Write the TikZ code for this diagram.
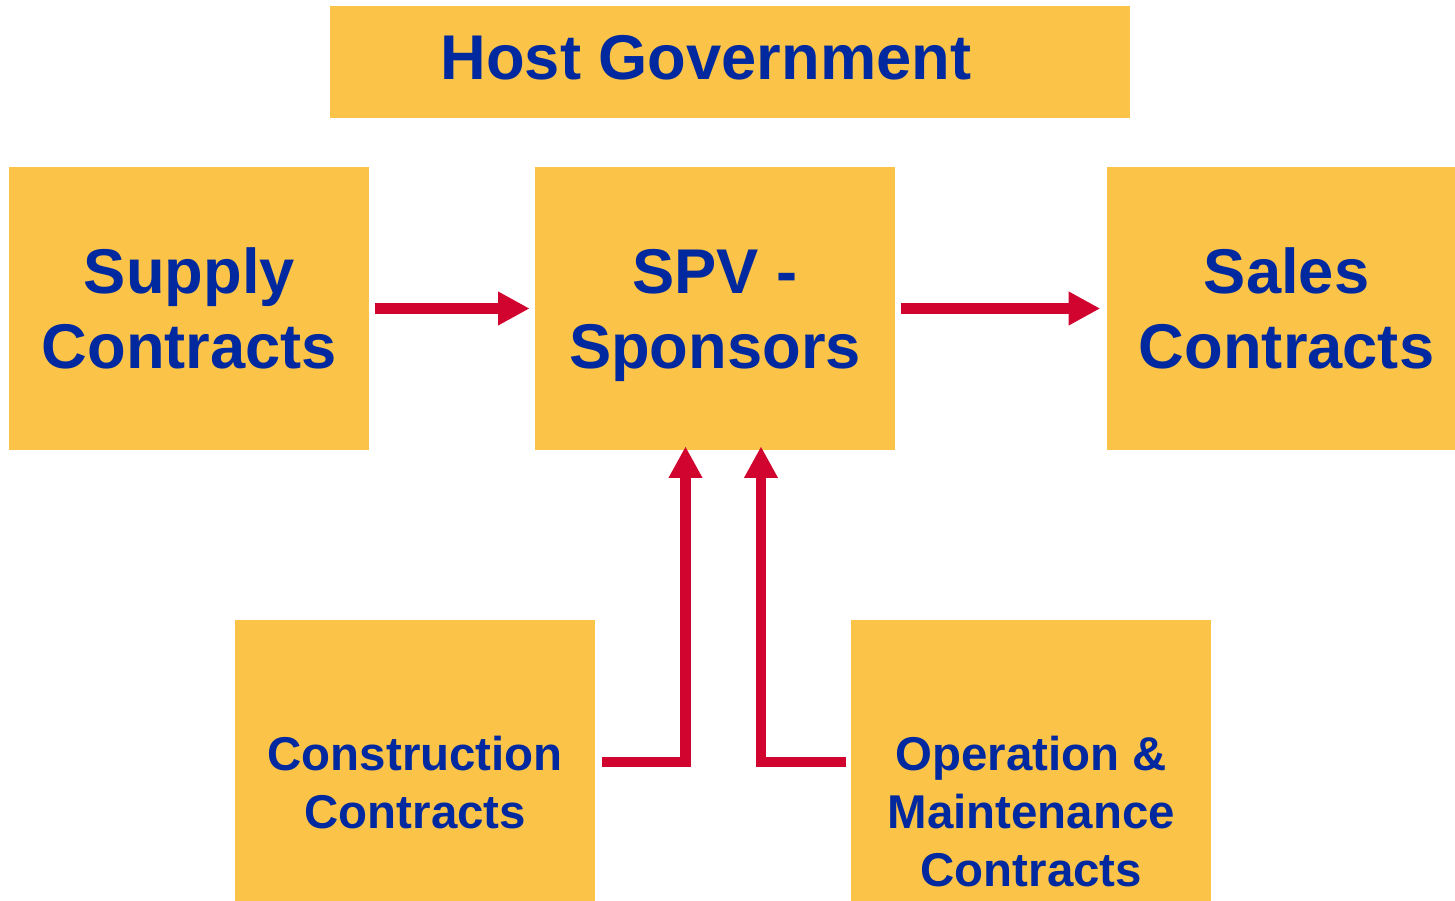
\documentclass[tikz,border=0pt]{standalone}
\usepackage{fontspec}
\setmainfont{Liberation Sans}
\usetikzlibrary{arrows.meta,positioning}

\definecolor{boxyellow}{RGB}{251,196,72}
\definecolor{arrowred}{RGB}{208,4,46}
\definecolor{textblue}{RGB}{0,41,160}

\begin{document}
\begin{tikzpicture}[x=0.02cm,y=-0.02cm,node distance=2cm]
    \tikzstyle{box}=[rectangle, fill=boxyellow, text=textblue, align=center,
        minimum width=7.2cm, minimum height=5.66cm, inner sep=0pt, text depth=0pt,
        font=\fontsize{36}{42.7}\selectfont\bfseries]
    \tikzstyle{smallbox}=[box, font=\fontsize{27}{33}\selectfont\bfseries]
    \tikzstyle{flow}=[arrowred, line width=6.2pt, -{Triangle[length=18pt,width=18pt]}]

    \path[use as bounding box, clip] (0,0) rectangle (1455,901);

    \node[box]          (spv) at (715,308.5) {SPV -\\Sponsors};
    \node[box]          (supply) [left=3.3cm of spv] {Supply\\Contracts};
    \node[box]          (sales) [right=4.22cm of spv] {Sales\\Contracts};
    \node[box, minimum width=16cm, minimum height=2.24cm, text depth=0.2cm]
                        (host) [above=0.96cm of spv, xshift=0.3cm] {Host Government\hspace*{0.96cm}};

    \node[smallbox, anchor=north west, minimum height=6.48cm]
                        (cons) at (235,620) {Construction\\Contracts};
    \node[smallbox, anchor=north west, minimum height=7.64cm]
                        (om) at (851,620) {Operation \&\\Maintenance\\Contracts};

    \draw[flow, shorten <=0.1cm, shorten >=0.1cm] (supply) -- (spv);
    \draw[flow, shorten <=0.12cm, shorten >=0.12cm] (spv) -- (sales);

    \draw[flow, shorten >=-0.08cm] ([xshift=0.12cm,yshift=-2.84cm]cons.north east)
        -| ([xshift=-0.59cm]spv.south);
    \draw[flow, shorten >=-0.08cm] ([xshift=-0.1cm,yshift=-2.84cm]om.north west)
        -| ([xshift=0.92cm]spv.south);

  \end{tikzpicture}
\end{document}
